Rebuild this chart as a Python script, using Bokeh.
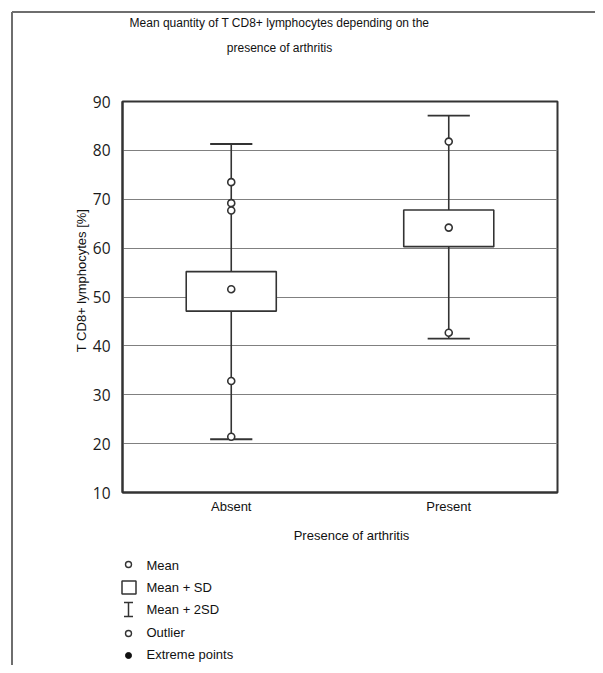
import numpy as np
from bokeh.plotting import figure
from bokeh.models import Range1d, FixedTicker, ColumnDataSource
from bokeh.embed import file_html
from bokeh.resources import INLINE
from bokeh.core.properties import value

# ---------------- data ----------------
categories = ["Absent", "Present"]
cat_pos = [0.5, 1.5]
means = [51.6, 64.2]
sd_low = [47.1, 60.3]
sd_high = [55.2, 67.8]
sd2_low = [20.9, 41.5]
sd2_high = [81.3, 87.1]
outlier_cat = ["Absent", "Absent", "Absent", "Absent", "Absent", "Present", "Present"]
outlier_vals = [73.5, 69.2, 67.7, 32.8, 21.4, 81.8, 42.7]
y_ticks = [10, 20, 30, 40, 50, 60, 70, 80, 90]
grid_ticks = [20, 30, 40, 50, 60, 70, 80]
legend_labels = ["Mean", "Mean + SD", "Mean + 2SD", "Outlier", "Extreme points"]

title_lines = ["Mean quantity of T CD8+ lymphocytes depending on the", "presence of arthritis"]
x_title = "Presence of arthritis"
y_title = "T CD8+ lymphocytes [%]"

TXT_FONT = "Liberation Sans"
TICK_FONT = "Open Sans"
DARK = "#333333"

W, H = 595, 665
L, R, T, B = 122, 38, 101, 173

p = figure(width=W, height=H, x_range=Range1d(0, 2), y_range=Range1d(10, 90),
           output_backend="svg", toolbar_location=None,
           min_border_left=L, min_border_right=R, min_border_top=T, min_border_bottom=B)
p.background_fill_color = "white"
p.border_fill_color = "white"
p.outline_line_color = DARK
p.outline_line_width = 2

p.xgrid.visible = False
p.ygrid.ticker = FixedTicker(ticks=grid_ticks)
p.ygrid.grid_line_color = "#808080"
p.ygrid.grid_line_width = 1.2

p.yaxis.ticker = FixedTicker(ticks=y_ticks)
p.yaxis.major_tick_line_color = None
p.yaxis.minor_tick_line_color = None
p.yaxis.axis_line_color = DARK
p.yaxis.axis_line_width = 2
p.yaxis.major_label_standoff = 6
p.yaxis.major_label_text_font = TICK_FONT
p.yaxis.major_label_text_font_size = "15.5px"
p.yaxis.major_label_text_color = "#1a1a1a"

p.xaxis.ticker = FixedTicker(ticks=cat_pos)
p.xaxis.major_label_overrides = {cp: c for cp, c in zip(cat_pos, categories)}
p.xaxis.major_tick_line_color = None
p.xaxis.minor_tick_line_color = None
p.xaxis.axis_line_color = DARK
p.xaxis.axis_line_width = 2
p.xaxis.major_label_standoff = 0
p.xaxis.major_label_text_font = TXT_FONT
p.xaxis.major_label_text_font_size = "13px"
p.xaxis.major_label_text_color = "#111111"

# ---------------- boxes ----------------
box_hw = 0.207
cap_hw = 0.097
src = ColumnDataSource(dict(x=cat_pos, mean=means, lo=sd_low, hi=sd_high,
                            lo2=sd2_low, hi2=sd2_high,
                            left=[c - box_hw for c in cat_pos], right=[c + box_hw for c in cat_pos],
                            cl=[c - cap_hw for c in cat_pos], cr=[c + cap_hw for c in cat_pos]))
p.segment(x0="x", y0="lo2", x1="x", y1="hi2", source=src, line_color=DARK, line_width=1.6)
p.segment(x0="cl", y0="lo2", x1="cr", y1="lo2", source=src, line_color=DARK, line_width=1.8)
p.segment(x0="cl", y0="hi2", x1="cr", y1="hi2", source=src, line_color=DARK, line_width=1.8)
p.quad(left="left", right="right", bottom="lo", top="hi", source=src,
       fill_color="white", line_color=DARK, line_width=1.6)
p.scatter(x="x", y="mean", source=src, marker="circle", size=7,
          fill_color="white", line_color=DARK, line_width=1.6)

ox = [cat_pos[categories.index(c)] for c in outlier_cat]
p.scatter(x=ox, y=outlier_vals, marker="circle", size=7,
          fill_color="white", line_color=DARK, line_width=1.6)

# ---------------- decorations in pixel coordinates ----------------
p.extra_x_ranges = {"px": Range1d(L, W - R)}
p.extra_y_ranges = {"px": Range1d(H - B, T)}
PX = dict(x_range_name="px", y_range_name="px", level="overlay")

# outer frame
p.segment(x0=[11.5, 11.5], y0=[11.5, 11.5], x1=[11.5, 610], y1=[680, 11.5],
          line_color="#6e6e6e", line_width=2, **PX)

# title
p.text(x=[279, 279], y=[22.5, 47.5], text=title_lines, text_align="center",
       text_baseline="alphabetic", text_font=value(TXT_FONT), text_font_size="12px",
       text_color="#111111", **PX)
# x title
p.text(x=[351], y=[534.5], text=[x_title], text_align="center", text_baseline="alphabetic",
       text_font=value(TXT_FONT), text_font_size="13px", text_color="#111111", **PX)
# y title
p.text(x=[81], y=[280], text=[y_title], text_align="center", text_baseline="middle",
       angle=np.pi / 2, text_font=value(TXT_FONT), text_font_size="13px",
       text_color="#111111", **PX)

# legend
ly = [565, 587, 609, 632, 654]
sx = 128
p.rect(x=[sx], y=[ly[0] - 1], width=6, height=6, border_radius=3, fill_color="white",
       line_color=DARK, line_width=1.4, **PX)
p.rect(x=[sx + 0.5], y=[ly[1]], width=14, height=13, fill_color="white",
       line_color=DARK, line_width=1.5, **PX)
p.segment(x0=[sx, sx - 4.5, sx - 4.5], y0=[ly[2] - 7, ly[2] - 7, ly[2] + 7],
          x1=[sx, sx + 4.5, sx + 4.5], y1=[ly[2] + 7, ly[2] - 7, ly[2] + 7],
          line_color=DARK, line_width=1.5, **PX)
p.rect(x=[sx], y=[ly[3] + 1], width=6, height=6, border_radius=3, fill_color="white",
       line_color=DARK, line_width=1.4, **PX)
p.rect(x=[sx], y=[ly[4] + 1], width=6, height=6, border_radius=3, fill_color="#111111",
       line_color="#111111", line_width=1, **PX)
p.text(x=[146] * 5, y=ly, text=legend_labels, text_align="left", text_baseline="middle",
       text_font=value(TXT_FONT), text_font_size="13px", text_color="#111111", **PX)

open("out.html", "w").write(file_html(p, INLINE))
